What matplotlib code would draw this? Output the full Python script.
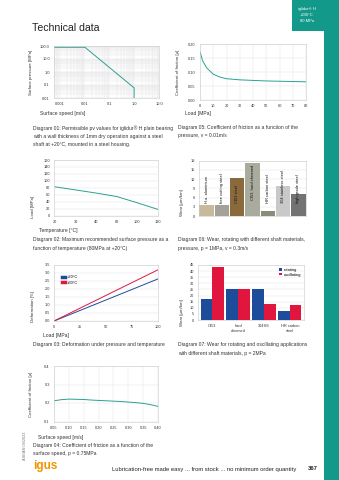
import numpy as np
import matplotlib
matplotlib.use("Agg")
import matplotlib.pyplot as plt
from matplotlib.patches import Rectangle

plt.rcParams['font.family'] = ['Liberation Sans', 'DejaVu Sans']

W, H = 339, 480
TEAL = '#13998a'
LINE_TEAL = '#2aa193'
GRID = '#e4e4e4'
FRAME = '#c8c8c8'
TXT = '#333333'
TICK_FS = 2.8
CAP_FS = 3.6
BLUE = '#1d4c9a'
RED = '#e0163f'

# Diagram 01: permissible pv values
pv_speed = [0.0006, 0.0105, 1.0, 1.0]
pv_pressure = [80, 80, 0.06, 0.01]

# Diagram 05: friction vs load
load_mpa = [0, 2, 5, 10, 15, 20, 30, 40, 50, 60, 70, 80]
cof_load = [0.172, 0.14, 0.115, 0.092, 0.082, 0.076, 0.072, 0.070, 0.068, 0.067, 0.066, 0.065]

# Diagram 02: max surface pressure vs temperature
temp_labels = ['20', '30', '40', '80', '100', '130']
temp_load = [83, 74, 65, 55, 37, 18]

# Diagram 06: wear with different shaft materials
shaft_materials = ['H.a. aluminium', 'free cutting steel', 'Cf53 steel', 'Cf53, hard chromed',
                   'HR carbon steel', '304 stainless steel', 'high grade steel']
shaft_wear = [3.6, 3.6, 12.5, 17.2, 1.6, 9.9, 7.2]
shaft_colors = ['#c9b99b', '#a6a09a', '#8a6a3d', '#a9ab9c', '#8b8b7b', '#c9c9c9', '#737373']

# Diagram 03: deformation
deform_load = [0, 100]
deform_20 = [0.0, 2.63]
deform_60 = [0.0, 3.2]

# Diagram 07: wear rotating vs oscillating
wear_groups = ['Cf53', 'hard\nchromed', '304SS', 'HR carbon\nsteel']
wear_rotating = [16.9, 25.1, 25.1, 7.6]
wear_oscillating = [43.1, 25.4, 13.1, 12.0]

# Diagram 04: friction vs surface speed
speed_ms = [0.05, 0.075, 0.10, 0.125, 0.15, 0.175, 0.20, 0.225, 0.25, 0.275, 0.30, 0.325, 0.35, 0.375, 0.40]
cof_speed = [0.212, 0.218, 0.221, 0.220, 0.219, 0.216, 0.214, 0.212, 0.210, 0.208, 0.205, 0.202, 0.198, 0.191, 0.182]

fig = plt.figure(figsize=(W / 100, H / 100), dpi=100)


def add_ax(l, t, r, b):
    return fig.add_axes([l / W, 1 - b / H, (r - l) / W, (b - t) / H])


def ftext(x, y, s, **kw):
    kw.setdefault('color', TXT)
    kw.setdefault('fontsize', CAP_FS)
    kw.setdefault('va', 'center')
    fig.text(x / W, 1 - y / H, s, **kw)


def style(ax):
    for sp in ax.spines.values():
        sp.set_color(FRAME)
        sp.set_linewidth(0.4)
    ax.tick_params(which='both', length=0, labelsize=TICK_FS, colors=TXT, pad=3)
    ax.set_axisbelow(True)


# page decoration
fig.patches.append(Rectangle((292 / W, 1 - 31 / H), 47 / W, 31 / H, transform=fig.transFigure,
                             color=TEAL, lw=0))
fig.patches.append(Rectangle((324 / W, 0), 15 / W, 1 - 31 / H, transform=fig.transFigure,
                             color=TEAL, lw=0))
ftext(307, 9, 'iglidur® H', color='white', fontsize=3.0, ha='center')
ftext(307, 15, '+200°C', color='white', fontsize=3.0, ha='center')
ftext(307, 21, '80 MPa', color='white', fontsize=3.0, ha='center')
ftext(32, 28, 'Technical data', fontsize=7.6, color='#222222', ha='left')

# Diagram 01
ax = add_ax(54, 46, 159, 98)
style(ax)
ax.plot(pv_speed, pv_pressure, color=LINE_TEAL, lw=0.7)
ax.set_xscale('log')
ax.set_yscale('log')
ax.set_xlim(0.0006, 10)
ax.set_ylim(0.01, 100)
ax.set_xticks([0.001, 0.01, 0.1, 1, 10], ['0.001', '0.01', '0.1', '1.0', '10.0'])
ax.set_yticks([0.01, 0.1, 1, 10, 100], ['0.01', '0.1', '1.0', '10.0', '100.0'])
ax.tick_params(axis='both', which='minor', labelleft=False, labelbottom=False)
ax.grid(which='both', color=GRID, lw=0.35)
ftext(31, 72, 'Surface pressure [MPa]', rotation=90, ha='center', fontsize=3.2)
ftext(40, 114, 'Surface speed [m/s]', ha='left')
ftext(33, 128, 'Diagram 01: Permissible pv values for iglidur® H plain bearing', ha='left')
ftext(33, 136.5, 'with a wall thickness of 1mm dry operation against a steel', ha='left')
ftext(33, 145, 'shaft at +20°C, mounted in a steel housing.', ha='left')

# Diagram 05
ax = add_ax(200, 44, 306, 100)
style(ax)
ax.plot(load_mpa, cof_load, color=LINE_TEAL, lw=0.7)
ax.set_xlim(0, 80)
ax.set_ylim(0, 0.20)
ax.set_xticks(range(0, 81, 10))
ax.set_yticks([0, 0.05, 0.10, 0.15, 0.20], ['0.00', '0.05', '0.10', '0.15', '0.20'])
ax.grid(color=GRID, lw=0.35)
ftext(178, 72, 'Coefficient of friction [µ]', rotation=90, ha='center', fontsize=3.2)
ftext(185, 114, 'Load [MPa]', ha='left')
ftext(178, 128, 'Diagram 05: Coefficient of friction as a function of the', ha='left')
ftext(178, 136, 'pressure, v = 0.01m/s', ha='left')

# Diagram 02
ax = add_ax(54, 160, 158, 215.7)
style(ax)
xpos = np.arange(len(temp_labels))
ax.plot(xpos, temp_load, color=LINE_TEAL, lw=0.7)
ax.set_xlim(-0.05, 5)
ax.set_ylim(0, 160)
ax.set_xticks(xpos, temp_labels)
ax.set_yticks(range(0, 161, 20))
ax.grid(axis='y', color=GRID, lw=0.35)
ftext(33, 207, 'Load [MPa]', rotation=90, ha='center', fontsize=3.2)
ftext(39, 231, 'Temperature [°C]', ha='left')
ftext(33, 239.5, 'Diagram 02: Maximum recommended surface pressure as a', ha='left')
ftext(33, 248, 'function of temperature (80MPa at +20°C)', ha='left')

# Diagram 06
ax = add_ax(199, 160.7, 306, 216)
style(ax)
bpos = np.arange(len(shaft_materials))
ax.bar(bpos, shaft_wear, width=0.95, color=shaft_colors, lw=0)
for x, name, v in zip(bpos, shaft_materials, shaft_wear):
    if v > 15:
        ax.text(x, v - 0.4, name, rotation=90, ha='center', va='top', fontsize=2.9, color='#111111')
    else:
        ax.text(x, 4.2, name, rotation=90, ha='center', va='bottom', fontsize=2.9, color='#111111')
ax.set_xlim(-0.5, 6.5)
ax.set_ylim(0, 18)
ax.set_xticks([])
ax.set_yticks(range(0, 19, 3))
ax.grid(axis='y', color=GRID, lw=0.35)
ftext(182, 203, 'Wear [µm/km]', rotation=90, ha='center', fontsize=3.2)
ftext(178, 240, 'Diagram 06: Wear, rotating with different shaft materials,', ha='left')
ftext(178, 248.5, 'pressure, p = 1MPa, v = 0.3m/s', ha='left')

# Diagram 03
ax = add_ax(54, 265, 158, 321)
style(ax)
ax.plot(deform_load, deform_20, color=BLUE, lw=0.7, label='+20°C')
ax.plot(deform_load, deform_60, color=RED, lw=0.7, label='+60°C')
ax.set_xlim(0, 100)
ax.set_ylim(0, 3.5)
ax.set_xticks([0, 25, 50, 75, 100])
ax.set_yticks(np.arange(0, 3.51, 0.5), [f'{v:.1f}' for v in np.arange(0, 3.51, 0.5)])
ax.grid(axis='y', color=GRID, lw=0.35)
ax.legend(loc='upper left', bbox_to_anchor=(0.06, 0.85), frameon=False, fontsize=2.9,
          handlelength=0.6, handleheight=0.6, handletextpad=0.5, labelspacing=0.3,
          handler_map=None, borderpad=0)
leg = ax.get_legend()
for h, c in zip(leg.legend_handles, [BLUE, RED]):
    h.set_linewidth(2.5)
ftext(33, 306, 'Deformation [%]', rotation=90, ha='center', fontsize=3.2)
ftext(43, 336, 'Load [MPa]', ha='left')
ftext(33, 344.5, 'Diagram 03: Deformation under pressure and temperature', ha='left')

# Diagram 07
ax = add_ax(198, 265, 304, 320)
style(ax)
gpos = np.arange(len(wear_groups))
bw = 0.45
ax.bar(gpos - bw / 2, wear_rotating, width=bw, color=BLUE, lw=0, label='rotating')
ax.bar(gpos + bw / 2, wear_oscillating, width=bw, color=RED, lw=0, label='oscillating')
ax.set_xlim(-0.55, 3.55)
ax.set_ylim(0, 45)
ax.set_xticks(gpos, wear_groups)
ax.set_yticks(range(0, 46, 5))
ax.grid(axis='y', color=GRID, lw=0.35)
ax.legend(loc='upper right', frameon=False, fontsize=2.9, handlelength=0.6, handleheight=0.6,
          handletextpad=0.5, labelspacing=0.2, borderpad=0.2)
ftext(182, 313, 'Wear [µm/km]', rotation=90, ha='center', fontsize=3.2)
ftext(178, 344.5, 'Diagram 07: Wear for rotating and oscillating applications', ha='left')
ftext(178, 353, 'with different shaft materials, p = 2MPa', ha='left')

# Diagram 04
ax = add_ax(54, 366, 158, 421.5)
style(ax)
ax.plot(speed_ms, cof_speed, color=LINE_TEAL, lw=0.7)
ax.set_xlim(0.05, 0.40)
ax.set_ylim(0.1, 0.4)
ax.set_xticks(np.arange(0.05, 0.401, 0.05), [f'{v:.2f}' for v in np.arange(0.05, 0.401, 0.05)])
ax.set_yticks([0.1, 0.2, 0.3, 0.4], ['0.1', '0.2', '0.3', '0.4'])
ax.grid(color=GRID, lw=0.35)
ftext(31, 394, 'Coefficient of friction [µ]', rotation=90, ha='center', fontsize=3.2)
ftext(38, 437, 'Surface speed [m/s]', ha='left')
ftext(33, 446, 'Diagram 04: Coefficient of friction as a function of the', ha='left')
ftext(33, 454, 'surface speed, p = 0.75MPa', ha='left')

# footer
ftext(25, 446, 'ASEAN 09/2023', rotation=90, ha='center', fontsize=2.8, color='#777777')
ftext(33, 466, 'igus', fontsize=8.5, color='#f29400', ha='left', fontweight='bold')
ftext(112, 469, 'Lubrication-free made easy ... from stock ... no minimum order quantity',
      fontsize=4.2, ha='left', color='#222222')
ftext(318, 469, '367', fontsize=4.2, ha='right', color='#222222', fontweight='bold')

fig.savefig('out.png', dpi=100)
